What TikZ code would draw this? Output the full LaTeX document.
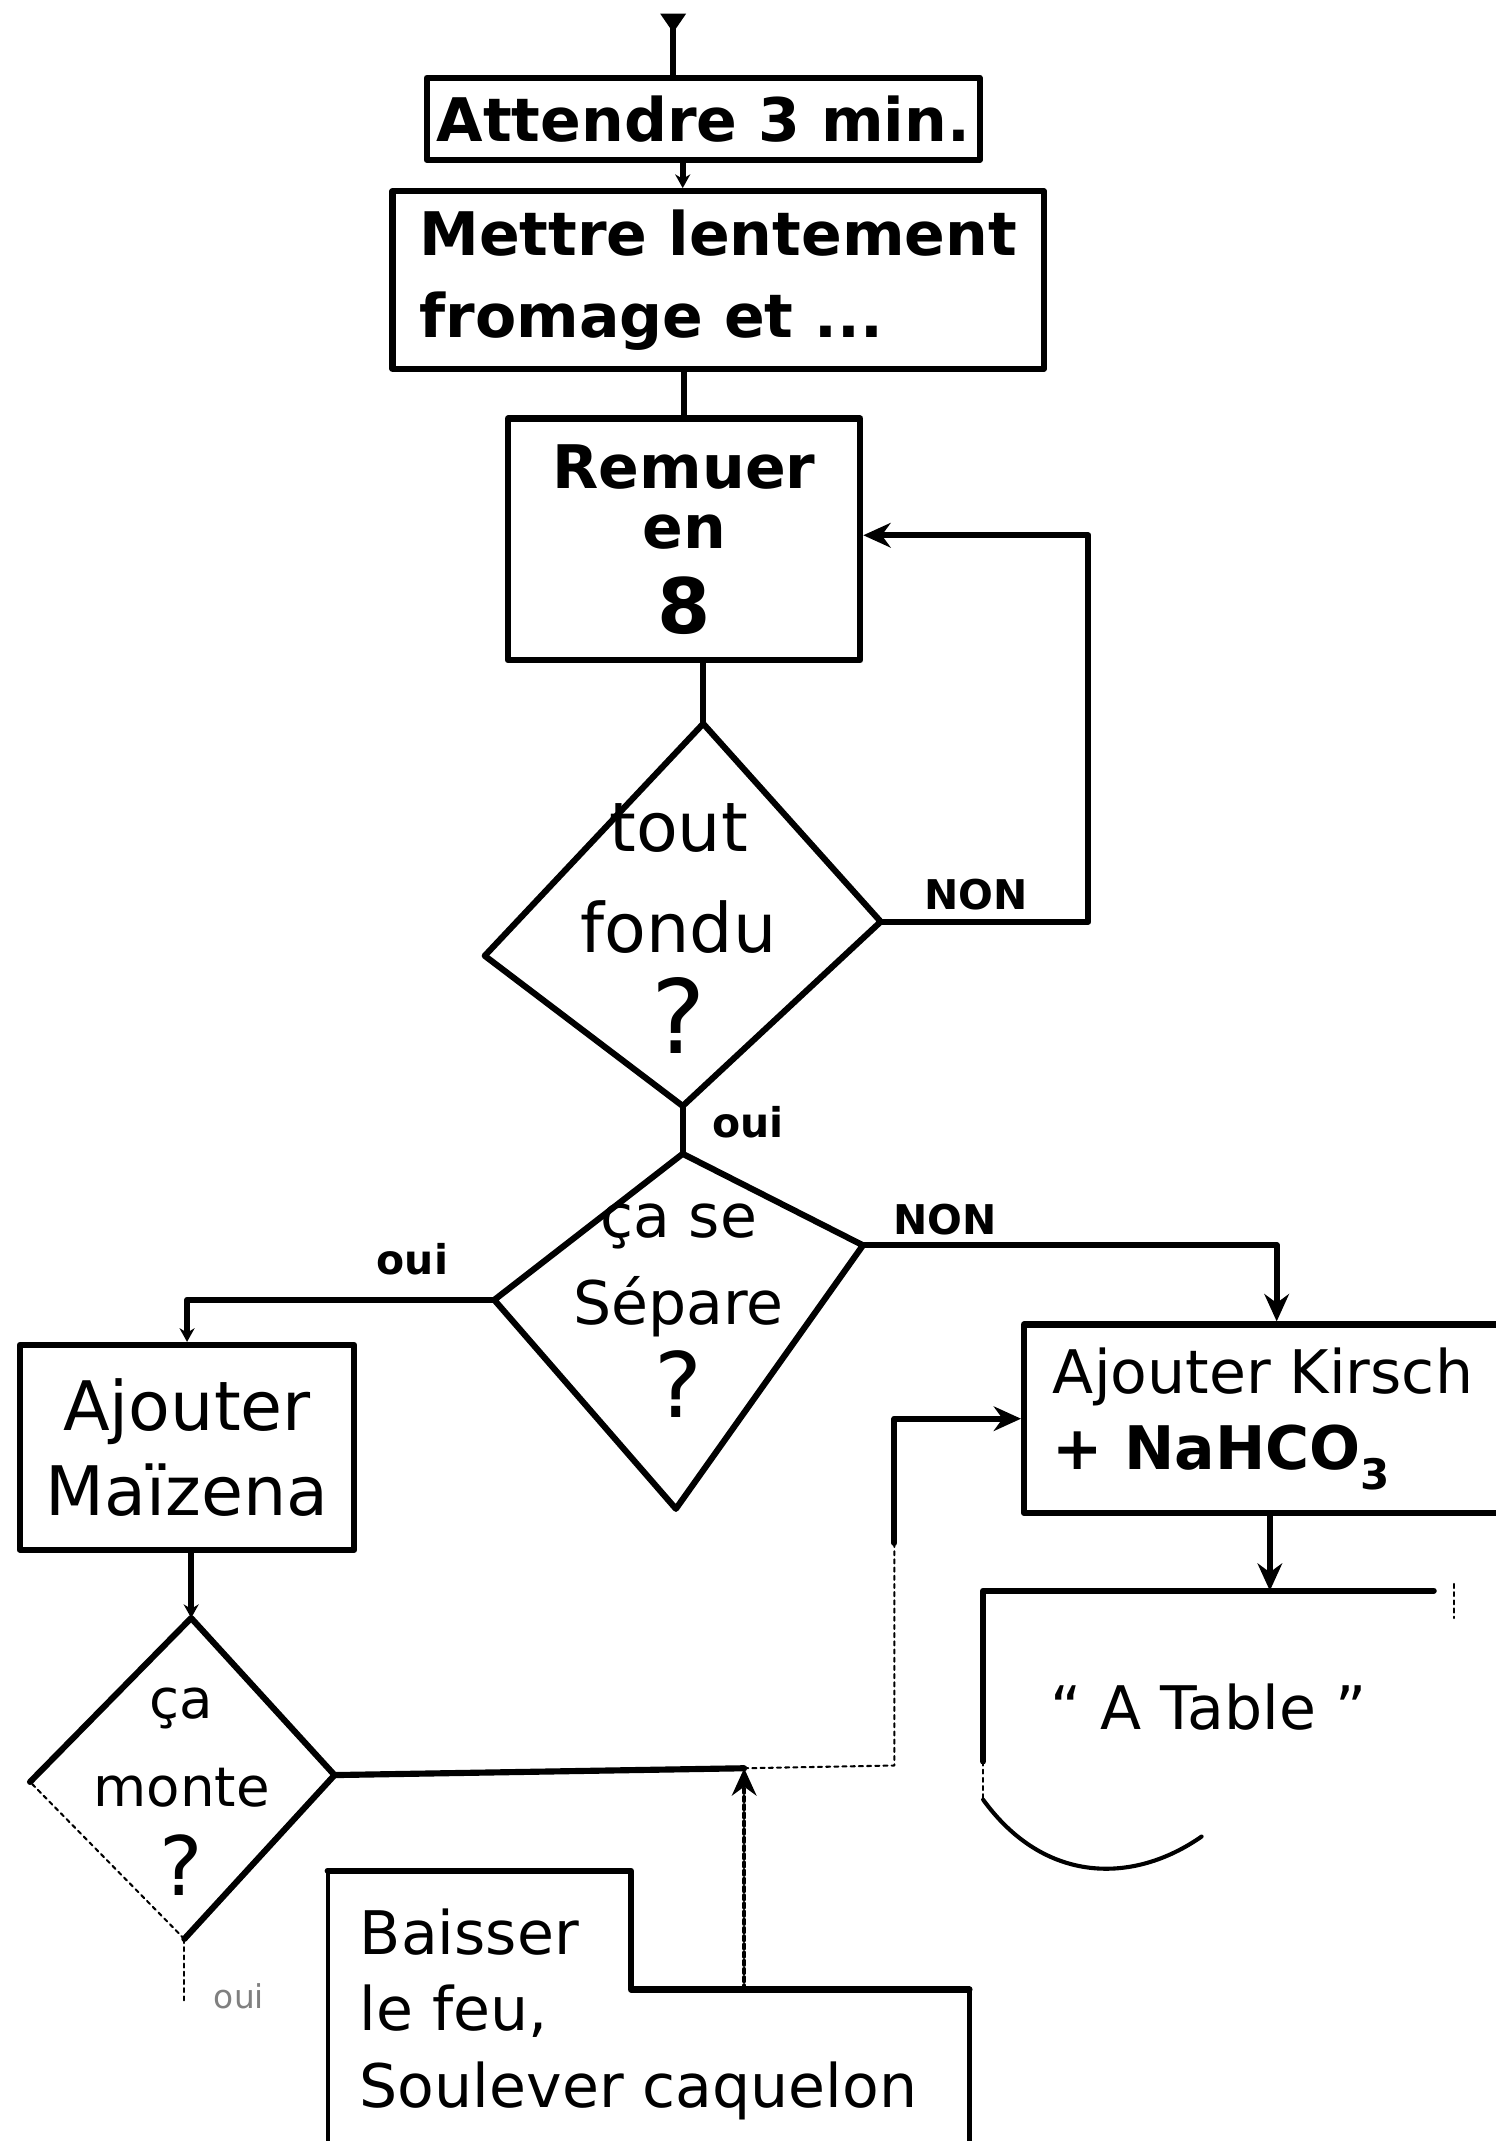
\documentclass[tikz,border=0pt]{standalone}
\usepackage{fontspec}
\setmainfont{DejaVu Sans}
\usetikzlibrary{shapes,arrows.meta}

\begin{document}
\begin{tikzpicture}[x=1pt,y=-1pt,line cap=round,line join=round,
  line/.style={line width=4.5pt},
  faint/.style={line width=1.5pt,dashed},
  box/.style={draw,line width=4.5pt,rectangle,inner sep=0pt},
  lab/.style={font=\fontsize{30}{36}\selectfont\bfseries},
  >={Stealth[length=20pt,width=18pt]}]

\useasboundingbox (0,0) rectangle (1095,1568);

% 方框
\node[box,minimum width=405pt,minimum height=60pt,font=\fontsize{44}{52}\selectfont\bfseries] (wait) at (515,87) {Attendre 3 min.};
\node[box,minimum width=477pt,minimum height=130pt,align=left,font=\fontsize{44}{60}\selectfont\bfseries] (melt) at (526,205) {Mettre lentement\\fromage et ...};
\node[box,minimum width=258pt,minimum height=177pt,align=center,font=\fontsize{44}{44}\selectfont\bfseries] (stir) at (501,395) {Remuer\\en\\[18pt]{\fontsize{56}{58}\selectfont 8}};
\node[box,minimum width=245pt,minimum height=150pt,align=center,font=\fontsize{50}{62}\selectfont] (maiz) at (137,1060) {Ajouter\\Maïzena};
\node[box,minimum width=350pt,minimum height=138pt,align=left,font=\fontsize{44}{56}\selectfont] (kirsch) at (925,1039) {Ajouter Kirsch\\{\bfseries + NaHCO\textsubscript{3}}};

% 判断
\coordinate (d1t) at (515,530);
\coordinate (d1r) at (645,675);
\coordinate (d1b) at (500,810);
\coordinate (d1l) at (355,700);
\draw[line] (d1t) -- (d1r) -- (d1b) -- (d1l) -- cycle;
\node[align=center,font=\fontsize{50}{74}\selectfont] (fondu) at (497,680) {tout\\fondu\\{\fontsize{75}{75}\selectfont ?}};

\coordinate (d2t) at (500,845);
\coordinate (d2r) at (632,912);
\coordinate (d2b) at (495,1105);
\coordinate (d2l) at (362,952);
\draw[line] (d2t) -- (d2r) -- (d2b) -- (d2l) -- cycle;
\node[align=center,font=\fontsize{44}{64}\selectfont] (separe) at (497,960) {ça se\\Sépare\\[4pt]{\fontsize{66}{66}\selectfont ?}};

\coordinate (d3t) at (140,1185);
\coordinate (d3r) at (245,1300);
\coordinate (d3b) at (135,1420);
\coordinate (d3l) at (22,1305);
\draw[line] (d3l) -- (d3t) -- (d3r) -- (d3b);
\draw[faint] (d3b) -- (d3l);
\node[align=center,font=\fontsize{40}{65}\selectfont] (monte) at (133,1312) {ça\\monte\\{\fontsize{60}{60}\selectfont ?}};

% Baisser le feu
\coordinate (bs1) at (240,1568);
\coordinate (bs2) at (240,1370);
\coordinate (bs3) at (462,1370);
\coordinate (bs4) at (462,1457);
\coordinate (bs5) at (710,1457);
\coordinate (bs6) at (710,1568);
\draw[line width=3pt] (bs1) -- (bs2);
\draw[line] (bs2) -- (bs3) -- (bs4) -- (bs5);
\draw[line width=3pt] (bs5) -- (bs6);
\node[anchor=west,align=left,font=\fontsize{44}{56}\selectfont] (feu) at (260,1475) {Baisser\\le feu,\\Soulever caquelon};

% A Table
\coordinate (tabT) at (930,1165);
\draw[line] (1050,1165) -- (720,1165) -- (720,1290);
\draw[faint] (720,1290) -- (720,1318);
\draw[line width=3pt] (720,1318) .. controls (765,1380) and (830,1380) .. (880,1345);
\draw[faint] (1065,1160) -- (1065,1185);
\node[font=\fontsize{44}{52}\selectfont] (tab) at (885,1250) {“ A Table ”};

% 连线
\coordinate (start) at (493,10);
\draw[line,{Triangle[reversed,length=14pt,width=18pt]}-] (start) -- (start |- wait.north);
\draw[line,-{Stealth[length=10pt,width=11pt]}] (wait.south -| 500,0) -- (melt.north -| 500,0);
\draw[line] (stir.north |- melt.south) -- (stir.north);
\draw[line] (d1t |- stir.south) -- (d1t);

\coordinate (loop) at (797,392);
\draw[line,->] (d1r) -| (loop) -- (loop -| stir.east);

\draw[line] (d1b) -- (d2t);
\draw[line,-{Stealth[length=10pt,width=11pt]}] (d2l) -| (maiz.north);
\draw[line,->] (d2r) -| ([xshift=10pt]kirsch.north);
\draw[line,-{Stealth[length=10pt,width=11pt]}] (d3t |- maiz.south) -- (d3t);

\coordinate (m1) at (545,1295);
\coordinate (m2) at (655,1293);
\coordinate (m3) at (655,1130);
\draw[line] (d3r) -- (m1);
\draw[faint] (m1) -- (m2) -- (m3);
\draw[line,->] (m3) |- (kirsch.west);
\draw[line width=3pt,dashed,->] (bs4 -| m1) -- (m1);
\draw[faint] (d3b) -- ++(0,45);

\draw[line,->] (kirsch.south -| tabT) -- (tabT);

% 标记文字
\node[lab] (non1) at (715,655) {NON};
\node[lab] (oui1) at (548,822) {oui};
\node[lab] (oui2) at (302,922) {oui};
\node[lab] (non2) at (692,893) {NON};
\node[font=\fontsize{24}{28}\selectfont,gray] (oui3) at (175,1462) {oui};

\end{tikzpicture}
\end{document}
